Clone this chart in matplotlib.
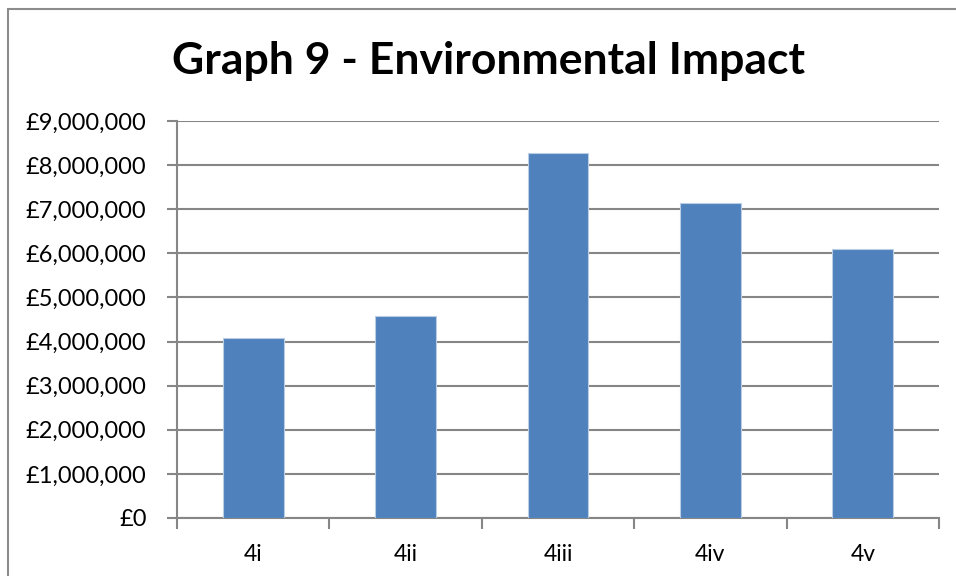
import matplotlib
matplotlib.use("Agg")
import matplotlib.pyplot as plt
from matplotlib.patches import Rectangle
from matplotlib.ticker import FuncFormatter, FixedLocator

categories = ["4i", "4ii", "4iii", "4iv", "4v"]
values = [4070000, 4570000, 8270000, 7150000, 6090000]
yticks = [0, 1000000, 2000000, 3000000, 4000000, 5000000, 6000000, 7000000, 8000000, 9000000]

plt.rcParams['font.family'] = ['Lato', 'DejaVu Sans']

fig = plt.figure(figsize=(9.56, 5.76), dpi=100)
fig.patches.append(Rectangle((8/956, -0.1), 1.2, 1 - 9/576 + 0.1, transform=fig.transFigure,
                             fill=False, edgecolor='#8c8c8c', linewidth=1.5))
ax = fig.add_axes([177/956, 1 - 518/576, (939 - 177)/956, (518 - 121)/576])

x = list(range(len(categories)))
ax.bar(x, values, width=0.4, color='#4F81BD', edgecolor='#b9cde5', linewidth=0.8, zorder=3)

ax.set_xlim(-0.5, len(categories) - 0.5)
ax.set_ylim(0, 9000000)
ax.set_yticks(yticks)
ax.yaxis.set_major_formatter(FuncFormatter(lambda v, p: "£0" if v == 0 else "£{:,.0f}".format(v)))
ax.set_xticks(x)
ax.set_xticklabels(categories)
ax.xaxis.set_minor_locator(FixedLocator([i - 0.5 for i in range(len(categories) + 1)]))
ax.tick_params(axis='x', which='major', length=0, pad=19, labelsize=16.5)
ax.tick_params(axis='x', which='minor', length=8, width=1.5, color='#868686')
ax.tick_params(axis='y', length=7, width=1.5, color='#868686', labelsize=17, pad=15)

ax.grid(axis='y', color='#868686', linewidth=1.5, zorder=0)
ax.set_axisbelow(True)
for s in ['top', 'right']:
    ax.spines[s].set_visible(False)
for s in ['left', 'bottom']:
    ax.spines[s].set_color('#868686')
    ax.spines[s].set_linewidth(1.5)

fig.text(488/956, 1 - 61/576, "Graph 9 - Environmental Impact", ha='center', va='center',
         fontsize=32, fontweight='bold')

fig.savefig("out.png", dpi=100)
